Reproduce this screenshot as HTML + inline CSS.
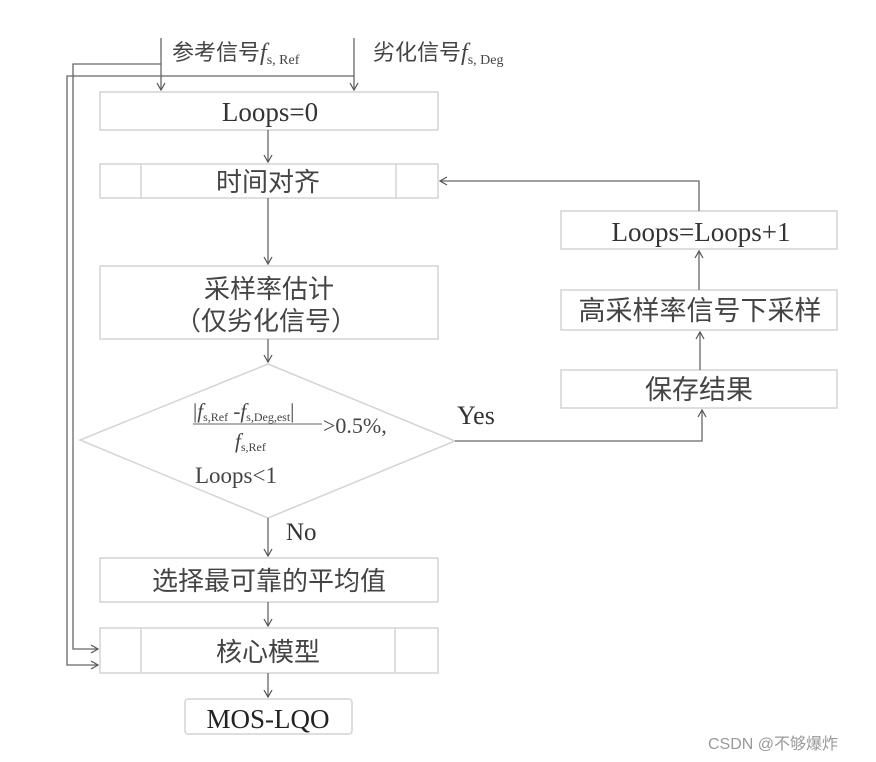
<!DOCTYPE html>
<html><head><meta charset="utf-8"><style>
html,body{margin:0;padding:0;background:#fff;}
svg{display:block;}
.cn{font-family:"Liberation Serif","Noto Sans CJK SC",serif;fill:#444;}
</style></head><body>
<svg width="876" height="762" viewBox="0 0 876 762" xmlns="http://www.w3.org/2000/svg">
<defs>
<marker id="a" markerWidth="10" markerHeight="10" refX="8" refY="5" orient="auto" markerUnits="userSpaceOnUse">
<path d="M1,1 L8,5 L1,9" fill="none" stroke="#555" stroke-width="1.2"/>
</marker>
</defs>
<g fill="none" stroke="#d4d4d4" stroke-width="1.5">
<rect x="100" y="92" width="338" height="38"/>
<rect x="100" y="164" width="338" height="34"/>
<line x1="141" y1="164" x2="141" y2="198"/><line x1="396" y1="164" x2="396" y2="198"/>
<rect x="100" y="266" width="338" height="73"/>
<polygon points="268,364 455,441 268,518 80,440"/>
<rect x="100" y="558" width="338" height="44"/>
<rect x="100" y="628" width="338" height="45"/>
<line x1="141" y1="628" x2="141" y2="673"/><line x1="395" y1="628" x2="395" y2="673"/>
<rect x="185" y="699" width="167" height="35" rx="3"/>
<rect x="561" y="211" width="276" height="38"/>
<rect x="561" y="290" width="276" height="40"/>
<rect x="561" y="370" width="276" height="38"/>
</g>
<g fill="none" stroke="#666" stroke-width="1.3">
<line x1="161" y1="38" x2="161" y2="90" marker-end="url(#a)"/>
<line x1="354" y1="38" x2="354" y2="90" marker-end="url(#a)"/>
<polyline points="161,64 73,64 73,649 98,649" marker-end="url(#a)"/>
<polyline points="354,76 67,76 67,665 98,665" marker-end="url(#a)"/>
<line x1="268" y1="130" x2="268" y2="162" marker-end="url(#a)"/>
<line x1="268" y1="198" x2="268" y2="264" marker-end="url(#a)"/>
<line x1="268" y1="339" x2="268" y2="362" marker-end="url(#a)"/>
<line x1="268" y1="518" x2="268" y2="556" marker-end="url(#a)"/>
<line x1="268" y1="602" x2="268" y2="626" marker-end="url(#a)"/>
<line x1="268" y1="673" x2="268" y2="697" marker-end="url(#a)"/>
<polyline points="455,441 702,441 702,410" marker-end="url(#a)"/>
<line x1="700" y1="370" x2="700" y2="332" marker-end="url(#a)"/>
<line x1="699" y1="290" x2="699" y2="251" marker-end="url(#a)"/>
<polyline points="699,211 699,181 440,181" marker-end="url(#a)"/>
<line x1="193" y1="424" x2="322" y2="424" stroke-width="1"/>
</g>
<g class="cn">
<text x="172" y="60" font-size="22">参考信号<tspan font-style="italic" font-size="24">f</tspan><tspan font-size="14" dy="4">s, Ref</tspan></text>
<text x="373" y="60" font-size="22">劣化信号<tspan font-style="italic" font-size="24">f</tspan><tspan font-size="14" dy="4">s, Deg</tspan></text>
<text x="270" y="121" font-size="27" text-anchor="middle" fill="#333">Loops=0</text>
<text x="268" y="191" font-size="26" text-anchor="middle">时间对齐</text>
<text x="269" y="298" font-size="26" text-anchor="middle">采样率估计</text>
<text x="266" y="330" font-size="26" text-anchor="middle">（仅劣化信号）</text>
<text x="193" y="418" font-size="21">|<tspan font-style="italic">f</tspan><tspan font-size="12" dy="3">s,Ref</tspan><tspan dy="-3"> -</tspan><tspan font-style="italic">f</tspan><tspan font-size="12" dy="3">s,Deg,est</tspan><tspan dy="-3">|</tspan></text>
<text x="323" y="433" font-size="22">&gt;0.5%,</text>
<text x="235" y="448" font-size="21" font-style="italic">f<tspan font-size="12" dy="3" font-style="normal">s,Ref</tspan></text>
<text x="195" y="483" font-size="23">Loops&lt;1</text>
<text x="457" y="424" font-size="26" fill="#333">Yes</text>
<text x="286" y="540" font-size="25" fill="#333">No</text>
<text x="269" y="590" font-size="26" text-anchor="middle">选择最可靠的平均值</text>
<text x="268" y="661" font-size="26" text-anchor="middle">核心模型</text>
<text x="268" y="728" font-size="27" text-anchor="middle" fill="#222">MOS-LQO</text>
<text x="701" y="241" font-size="27" text-anchor="middle" fill="#333">Loops=Loops+1</text>
<text x="700" y="320" font-size="27" text-anchor="middle">高采样率信号下采样</text>
<text x="699" y="399" font-size="27" text-anchor="middle">保存结果</text>
</g>
<text x="708" y="749" font-size="16" fill="#999" font-family="Liberation Sans,'Noto Sans CJK SC',sans-serif">CSDN @不够爆炸</text>
</svg>
</body></html>
